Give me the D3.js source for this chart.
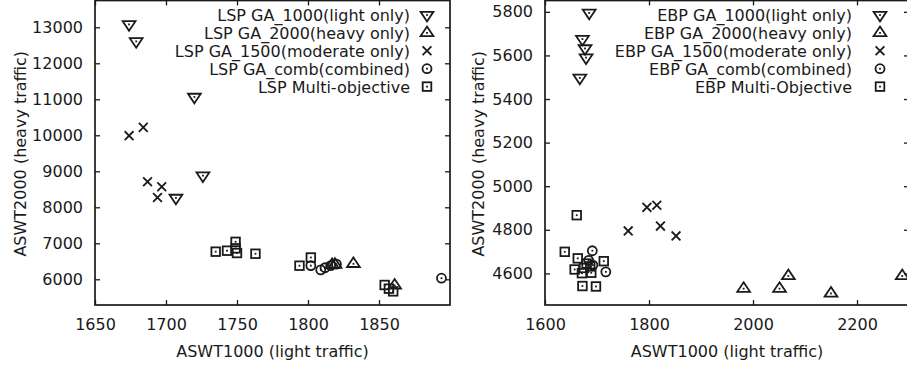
<!DOCTYPE html>
<html>
<head>
<meta charset="utf-8">
<script src="https://cdn.jsdelivr.net/npm/d3@7"></script>
<style>
  html, body { margin: 0; padding: 0; background: #fff; }
  svg { display: block; }
  text { font-family: "DejaVu Sans", sans-serif; fill: #1a1a1a; }
</style>
</head>
<body>
<svg id="chart" width="907" height="370"></svg>
<script>
// ---- LSP panel data: [ASWT1000, ASWT2000] pairs ----
const lspLight    = [[1674, 13080], [1679, 12610], [1720, 11065], [1726, 8880], [1707, 8260]];
const lspHeavy    = [[1817, 6400], [1819, 6410], [1832, 6430], [1861, 5830]];
const lspModerate = [[1674, 9990], [1684, 10220], [1687, 8710], [1697, 8570], [1694, 8270]];
const lspComb     = [[1802, 6380], [1809, 6260], [1812, 6320], [1816, 6380], [1820, 6420], [1894, 6030]];
const lspMulti    = [[1735, 6767], [1743, 6794], [1749, 7040], [1749, 6860], [1750, 6730], [1763, 6710],
                     [1794, 6378], [1802, 6605], [1854, 5842], [1857, 5740], [1860, 5665]];

// ---- EBP panel data ----
const ebpLight    = [[1685, 5795], [1672, 5675], [1677, 5632], [1679, 5590], [1667, 5497]];
const ebpHeavy    = [[1982, 4530], [2051, 4530], [2068, 4588], [2150, 4508], [2287, 4588]];
const ebpModerate = [[1760, 4795], [1796, 4903], [1815, 4913], [1822, 4817], [1852, 4772]];
const ebpComb     = [[1691, 4704], [1717, 4607], [1684, 4660], [1692, 4638]];
const ebpMulti    = [[1661, 4867], [1638, 4699], [1663, 4669], [1713, 4656], [1657, 4618], [1671, 4601],
                     [1689, 4603], [1672, 4542], [1698, 4540], [1680, 4645], [1687, 4632], [1675, 4625]];

// ---- tick values ----
const lspXTicks = [1650, 1700, 1750, 1800, 1850];
const lspYTicks = [6000, 7000, 8000, 9000, 10000, 11000, 12000, 13000];
const ebpXTicks = [1600, 1800, 2000, 2200];
const ebpYTicks = [4600, 4800, 5000, 5200, 5400, 5600, 5800];

// ---- legend labels ----
const lspLabels = ["LSP GA_1000(light only)", "LSP GA_2000(heavy only)", "LSP GA_1500(moderate only)",
                   "LSP GA_comb(combined)", "LSP Multi-objective"];
const ebpLabels = ["EBP GA_1000(light only)", "EBP GA_2000(heavy only)", "EBP GA_1500(moderate only)",
                   "EBP GA_comb(combined)", "EBP Multi-Objective"];

const xTitle = "ASWT1000 (light traffic)";
const yTitle = "ASWT2000 (heavy traffic)";

const svg = d3.select("#chart");
const ink = "#1a1a1a";
const sw = 1.8;

// marker shapes centred on (0,0)
const symbolTypes = ["down", "up", "cross", "circle", "square"];
function centreDot(g) {
  g.append("rect").attr("x", -0.9).attr("y", -0.9).attr("width", 1.8).attr("height", 1.8).attr("fill", ink);
}
function drawMarker(g, type) {
  const s = 6.4;
  if (type === "down" || type === "up") {
    const k = type === "up" ? 1 : -1;
    g.append("path")
      .attr("d", `M0,${-k * s}L${s},${k * s / 2}L${-s},${k * s / 2}Z`)
      .attr("fill", "none").attr("stroke", ink).attr("stroke-width", sw)
      .attr("stroke-linejoin", "miter");
    centreDot(g);
  } else if (type === "cross") {
    const c = 4.4;
    g.append("path").attr("d", `M${-c},${-c}L${c},${c}M${-c},${c}L${c},${-c}`)
      .attr("stroke", ink).attr("stroke-width", sw).attr("fill", "none");
  } else if (type === "circle") {
    g.append("circle").attr("r", 4.5).attr("fill", "none").attr("stroke", ink).attr("stroke-width", sw);
    centreDot(g);
  } else {
    const h = 4.3;
    g.append("rect").attr("x", -h).attr("y", -h).attr("width", 2 * h).attr("height", 2 * h)
      .attr("fill", "none").attr("stroke", ink).attr("stroke-width", sw);
    centreDot(g);
  }
}

function panel(cfg) {
  const x = d3.scaleLinear().domain(cfg.xDomain).range([cfg.left, cfg.right]);
  const y = d3.scaleLinear().domain(cfg.yDomain).range([cfg.bottom, cfg.top]);
  const g = svg.append("g");
  const tick = 5;

  // bottom axis with labels, top mirror ticks
  const xb = g.append("g").attr("transform", `translate(0,${cfg.bottom})`)
    .call(d3.axisBottom(x).tickValues(cfg.xTicks).tickSize(-tick).tickPadding(14).tickFormat(d3.format("d")));
  const xt = g.append("g").attr("transform", `translate(0,${cfg.top})`)
    .call(d3.axisTop(x).tickValues(cfg.xTicks).tickSize(-tick).tickFormat(""));
  const yl = g.append("g").attr("transform", `translate(${cfg.left},0)`)
    .call(d3.axisLeft(y).tickValues(cfg.yTicks).tickSize(-tick).tickPadding(12).tickFormat(d3.format("d")));
  const yr = g.append("g").attr("transform", `translate(${cfg.right},0)`)
    .call(d3.axisRight(y).tickValues(cfg.yTicks).tickSize(-tick).tickFormat(""));
  [xb, xt, yl, yr].forEach(a => {
    a.select(".domain").remove();
    a.selectAll("line").attr("stroke", ink).attr("stroke-width", 1.3);
    a.selectAll("text").attr("font-size", 16).attr("fill", ink).attr("font-family", "DejaVu Sans, sans-serif");
  });

  // frame
  g.append("rect").attr("x", cfg.left).attr("y", cfg.top)
    .attr("width", cfg.right - cfg.left).attr("height", cfg.bottom - cfg.top)
    .attr("fill", "none").attr("stroke", ink).attr("stroke-width", 1.7);

  // axis titles
  g.append("text").attr("x", (cfg.left + cfg.right) / 2).attr("y", 357)
    .attr("text-anchor", "middle").attr("font-size", 16).text(xTitle);
  g.append("text").attr("transform", `translate(${cfg.yTitleX},${(cfg.top + cfg.bottom) / 2 + 1}) rotate(-90)`)
    .attr("text-anchor", "middle").attr("dominant-baseline", "central").attr("font-size", 16).text(yTitle);

  // legend
  cfg.labels.forEach((lab, i) => {
    const cy = 15 + i * 17.9;
    g.append("text").attr("x", cfg.legendTextX).attr("y", cy + 6)
      .attr("text-anchor", "end").attr("font-size", 16).text(lab);
    drawMarker(g.append("g").attr("transform", `translate(${cfg.legendSymX},${cy})`), symbolTypes[i]);
  });

  // data points
  cfg.series.forEach((data, i) => {
    g.append("g").selectAll("g").data(data).join("g")
      .attr("transform", d => `translate(${x(d[0])},${y(d[1])})`)
      .each(function () { drawMarker(d3.select(this), symbolTypes[i]); });
  });
}

panel({
  left: 95, right: 450, top: 0.5, bottom: 305, yTitleX: 20,
  xDomain: [1650, 1900], yDomain: [5286, 13744],
  xTicks: lspXTicks, yTicks: lspYTicks,
  labels: lspLabels, legendTextX: 410, legendSymX: 427,
  series: [lspLight, lspHeavy, lspModerate, lspComb, lspMulti]
});

panel({
  left: 545, right: 909, top: 0.5, bottom: 305, yTitleX: 478,
  xDomain: [1600, 2300], yDomain: [4455, 5852],
  xTicks: ebpXTicks, yTicks: ebpYTicks,
  labels: ebpLabels, legendTextX: 852, legendSymX: 880,
  series: [ebpLight, ebpHeavy, ebpModerate, ebpComb, ebpMulti]
});
</script>
</body>
</html>
